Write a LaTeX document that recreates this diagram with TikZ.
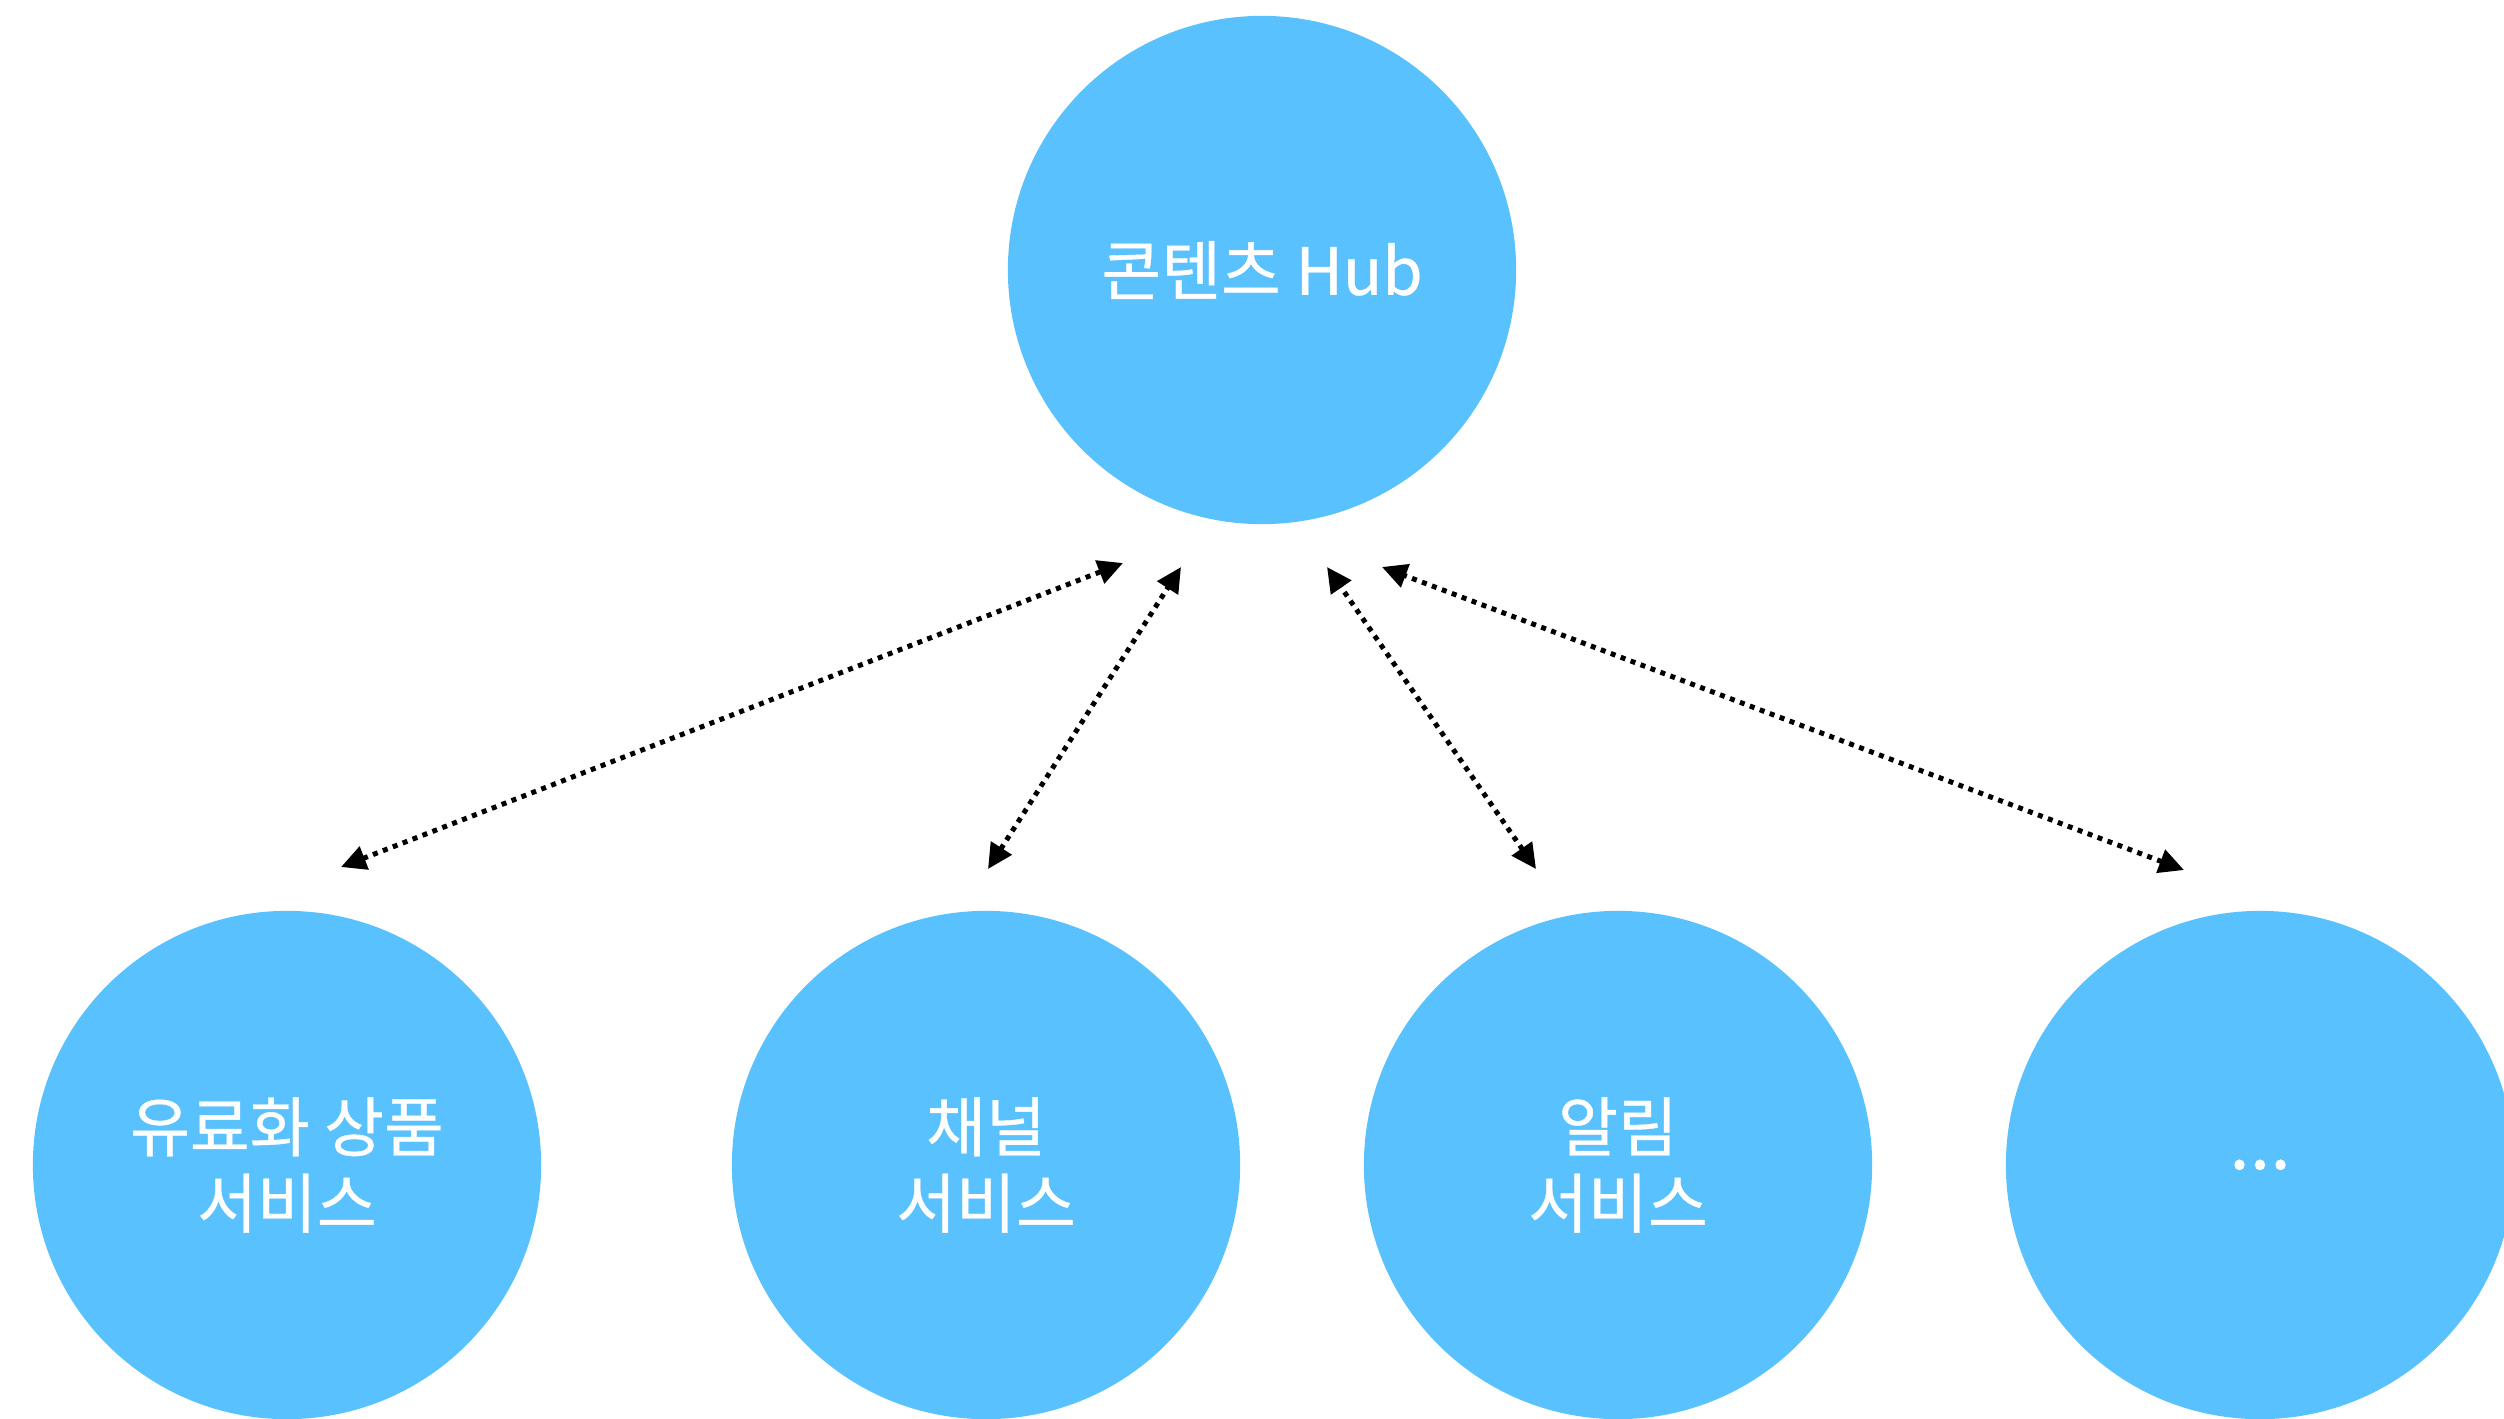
\documentclass[tikz,border=0pt]{standalone}
\usepackage{fontspec}
\newfontfamily\kr[FakeBold=0.6]{Noto Sans CJK KR}
\usetikzlibrary{arrows.meta}
\definecolor{bubble}{HTML}{5AC1FF}
\tikzset{
  bub/.style={circle, fill=bubble, draw=none, minimum size=5.08cm, inner sep=0pt,
    text=white, align=center, font=\kr\fontsize{18.5}{21.7}\selectfont},
  conn/.style={line width=1.42pt, dash pattern=on 1.42pt off 1.6pt,
    {Triangle[length=7.1pt,width=6.8pt]}-{Triangle[length=7.1pt,width=6.8pt]}}
}
\begin{document}
\begin{tikzpicture}[x=0.01cm,y=-0.01cm]
\useasboundingbox (0,0) rectangle (2504,1418);
\clip (0,0) rectangle (2504,1418);
\node[bub] (hub) at (1262,270) {콘텐츠 Hub};
\node[bub] (pay) at (287,1165) {유료화 상품\\서비스};
\node[bub] (chan) at (986,1165) {채널\\서비스};
\node[bub] (noti) at (1618,1165) {알림\\서비스};
\node[bub] (more) at (2260,1165) {};
\node[text=white, font=\kr\fontsize{21}{24}\selectfont, inner sep=0pt, anchor=base] (moretxt) at (2260,1169) {...};
\coordinate (a1s) at (341,867);  \coordinate (a1e) at (1123,563);
\coordinate (a2s) at (988,869);  \coordinate (a2e) at (1181,567);
\coordinate (a3s) at (1536,869); \coordinate (a3e) at (1327,567);
\coordinate (a4s) at (2184,870); \coordinate (a4e) at (1382,567);
\draw[conn] (a1s) -- (a1e);
\draw[conn] (a2s) -- (a2e);
\draw[conn] (a3s) -- (a3e);
\draw[conn] (a4s) -- (a4e);
\end{tikzpicture}
\end{document}
